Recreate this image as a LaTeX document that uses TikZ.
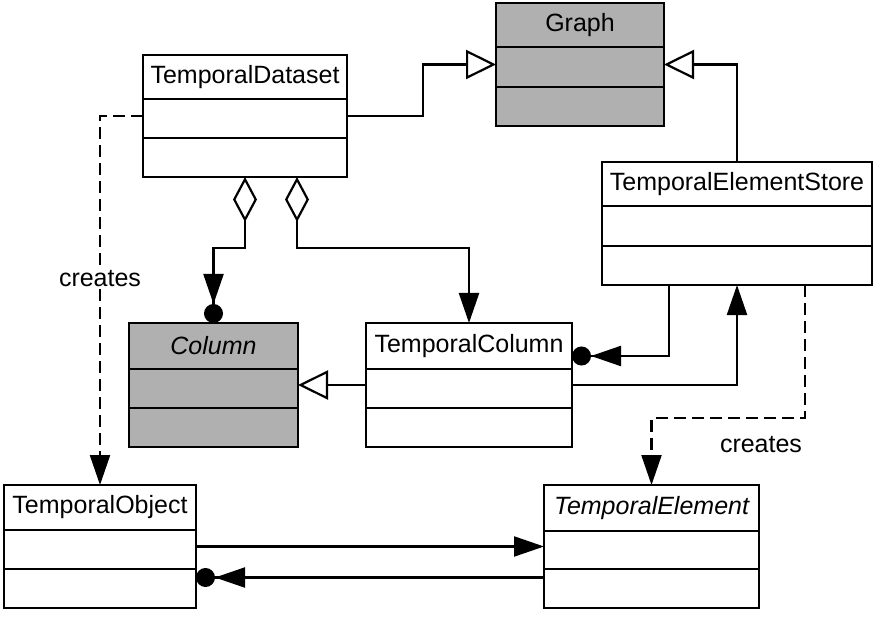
\documentclass[tikz,border=0pt]{standalone}
\usepackage{fontspec}
\setmainfont{Liberation Sans}
\usetikzlibrary{arrows.meta}
\definecolor{boxgray}{RGB}{176,176,176}
\tikzset{
  classbox/.style={draw, line width=2.6pt, inner sep=0pt, outer sep=0pt, rectangle},
  classname/.style={font=\fontsize{25}{30}\selectfont, inner sep=0pt, anchor=center},
  conn/.style={line width=2.2pt},
  gen/.style={conn, -{Triangle[open,length=30pt,width=29pt,fill=white]}},
  nav/.style={conn, -{Triangle[length=30pt,width=20pt]}},
  navdot/.style={conn, -{Triangle[length=30pt,width=20pt]Circle[length=19pt]}},
  aggdot/.style={conn, {Diamond[open,length=45pt,width=24pt,fill=white]}-{Triangle[length=30pt,width=20pt]Circle[length=19pt]}},
  aggnav/.style={conn, {Diamond[open,length=45pt,width=24pt,fill=white]}-{Triangle[length=30pt,width=20pt]}},
  dep/.style={conn, dash pattern=on 12pt off 6pt, -{Triangle[length=30pt,width=20pt]}},
  lbl/.style={font=\fontsize{25}{30}\selectfont, inner sep=1pt}
}
% name, x1, x2, y1, y2, row1, row2, fill, text
\newcommand\umlclass[9]{%
  \node[classbox, fill=#8, minimum width={(#3-#2)*1pt}, minimum height={(#5-#4)*1pt}] (#1) at ({(#2+#3)/2},{(#4+#5)/2}) {};
  \draw[line width=2.6pt] (#2,#6) -- (#3,#6);
  \draw[line width=2.6pt] (#2,#7) -- (#3,#7);
  \node[classname] (#1-t) at ({(#2+#3)/2},{(#4+#6)/2}) {#9};
}
\begin{document}
\begin{tikzpicture}[x=1pt, y=-1pt]
\useasboundingbox (0,0) rectangle (877,617);
\umlclass{Graph}{496}{664}{3}{126}{47}{87}{boxgray}{Graph}
\umlclass{TD}{143}{347}{55}{177}{99}{138}{white}{TemporalDataset}
\umlclass{TES}{602}{872}{162}{285}{206}{246}{white}{TemporalElementStore}
\umlclass{Column}{129}{298}{323}{447}{369}{408}{boxgray}{\itshape Column}
\umlclass{TC}{366}{572}{323}{447}{369}{408}{white}{TemporalColumn}
\umlclass{TO}{4}{196}{485}{608}{530}{569}{white}{TemporalObject}
\umlclass{TE}{544}{759}{485}{608}{531}{569}{white}{\itshape TemporalElement}

\draw[gen] (TD.east) -| (423,90) |- (Graph.west);
\draw[gen] (TES.north) |- (Graph.east);
\draw[gen] (TC.west) -- (Column.east);
\draw[aggdot] (TD.south) -- ++(0,71) -| (Column.north);
\draw[aggnav] ([xshift=52pt]TD.south) -- ++(0,71) -| (TC.north);
\draw[navdot] ([xshift=-68pt]TES.south) |- ([yshift=29pt]TC.east);
\draw[nav] (TC.east) -| (TES.south);
\draw[dep] ([xshift=68pt]TES.south) -- ++(0,133) -| (TE.north);
\node[lbl] (cr2) at (761,445) {creates};
\draw[dep] (TD.west) -| node[lbl, fill=white, pos=0.72] (cr1) {creates} (TO.north);
\draw[nav] (TO.east) -- (TE.west);
\draw[navdot] ([yshift=-31pt]TE.west) -- ([yshift=-31pt]TO.east);
\end{tikzpicture}
\end{document}
